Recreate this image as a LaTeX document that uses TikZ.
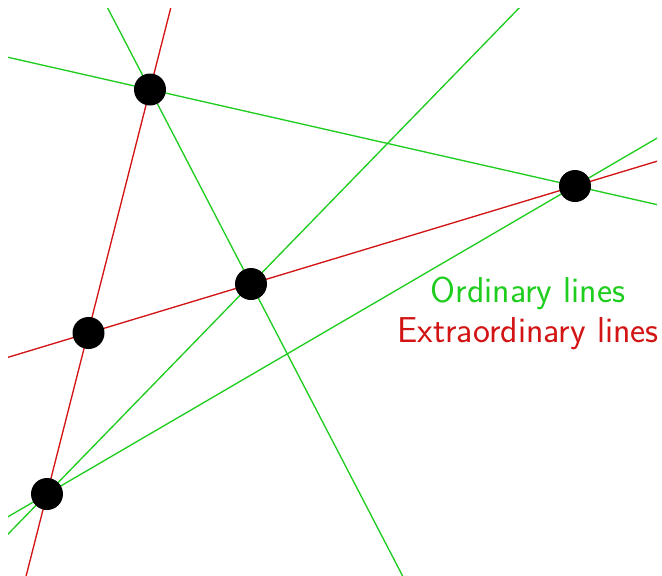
\documentclass[tikz,border=0pt]{standalone}
\definecolor{ordgreen}{RGB}{30,205,30}
\definecolor{extred}{RGB}{210,20,20}
\begin{document}
\begin{tikzpicture}[x=0.75pt,y=-0.75pt,
  ordinary/.style={draw=ordgreen,line width=1pt,shorten <=-700pt,shorten >=-700pt},
  extraordinary/.style={draw=extred,line width=1pt,shorten <=-700pt,shorten >=-700pt},
  pointdot/.style={circle,fill=black,inner sep=0pt,minimum size=24pt},
  legend/.style={font=\sffamily\fontsize{27}{32}\selectfont,anchor=base,inner sep=0pt}]
\useasboundingbox (0,0) rectangle (662,576);
\clip (8,8) rectangle (657,576);
% the five points
\coordinate (pA) at (150,89.5);
\coordinate (pB) at (575,186);
\coordinate (pC) at (251,284);
\coordinate (pD) at (88.5,333);
\coordinate (pE) at (47,494);
% ordinary lines (two points each)
\draw[ordinary] (pA) -- (pB);
\draw[ordinary] (pA) -- (pC);
\draw[ordinary] (pE) -- (pC);
\draw[ordinary] (pE) -- (pB);
% extraordinary lines (three points each)
\draw[extraordinary] (pA) -- (pE);
\draw[extraordinary] (pD) -- (pB);
% dots
\foreach \p in {A,B,C,D,E} \node[pointdot] (dot\p) at (p\p) {};
% legend
\node[legend,text=ordgreen] (lgOrd) at (528,302) {Ordinary lines};
\node[legend,text=extred] (lgExt) at (528,342) {Extraordinary lines};
\end{tikzpicture}
\end{document}
